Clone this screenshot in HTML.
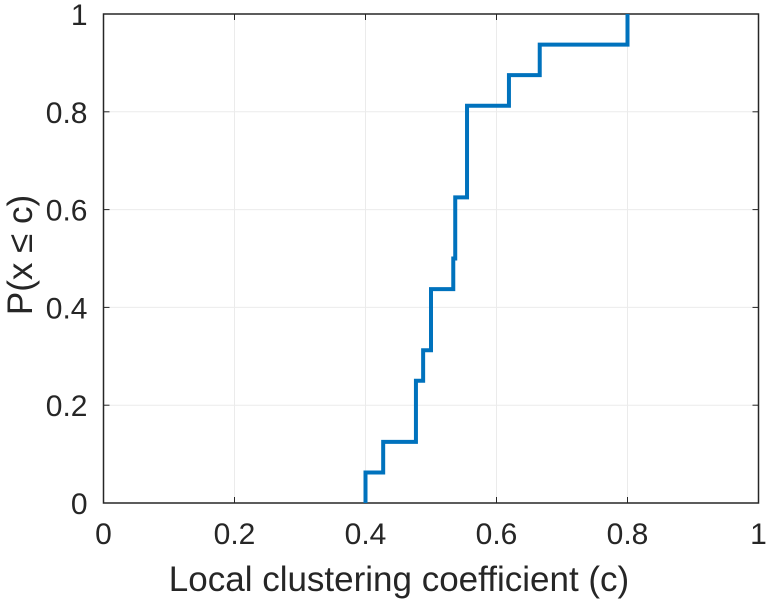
<!DOCTYPE html>
<html><head><meta charset="utf-8"><style>
body{margin:0;background:#fff;}
svg{display:block;font-family:"Liberation Sans",sans-serif;}
</style></head><body>
<svg id="chart" width="766" height="600"></svg>
<script>
const samples=[0.4,0.427,0.477,0.477,0.488,0.5,0.5,0.534,0.537,0.537,0.555,0.555,0.555,0.619,0.666,0.8];
const xTicks=[0,0.2,0.4,0.6,0.8,1];
const yTicks=[0,0.2,0.4,0.6,0.8,1];
const xTickLabels=["0","0.2","0.4","0.6","0.8","1"];
const yTickLabels=["0","0.2","0.4","0.6","0.8","1"];
const L=103.5,R=758.5,T=14,B=503;
const sx=v=>L+v*(R-L), sy=v=>B-v*(B-T);
const svg=document.getElementById('chart');
const NS='http://www.w3.org/2000/svg';
function mk(t,a,p){const e=document.createElementNS(NS,t);for(const k in a)e.setAttribute(k,a[k]);(p||svg).appendChild(e);return e;}
const bg=mk('rect',{x:L,y:T,width:R-L,height:B-T,fill:'#fff'});


xTicks.forEach((v,i)=>{
  const g=mk('line',{x1:sx(v),x2:sx(v),y1:T,y2:B,stroke:'#ebebeb','stroke-width':1});
  
  
  mk('line',{x1:sx(v),x2:sx(v),y1:B,y2:B-6,stroke:'#262626','stroke-width':1});
  mk('line',{x1:sx(v),x2:sx(v),y1:T,y2:T+6,stroke:'#262626','stroke-width':1});
  const t=mk('text',{x:sx(v),y:B+41,'text-anchor':'middle','font-size':30,fill:'#262626'});
  t.textContent=xTickLabels[i];
  
  
});
yTicks.forEach((v,i)=>{
  const g=mk('line',{x1:L,x2:R,y1:sy(v),y2:sy(v),stroke:'#ebebeb','stroke-width':1});
  
  
  mk('line',{x1:L,x2:L+6,y1:sy(v),y2:sy(v),stroke:'#262626','stroke-width':1});
  mk('line',{x1:R,x2:R-6,y1:sy(v),y2:sy(v),stroke:'#262626','stroke-width':1});
  const t=mk('text',{x:L-16,y:sy(v)+11,'text-anchor':'end','font-size':30,fill:'#262626'});
  t.textContent=yTickLabels[i];
  
  
});
const box=mk('rect',{x:L,y:T,width:R-L,height:B-T,fill:'none',stroke:'#262626','stroke-width':1.5});


const n=samples.length;
let d='M'+sx(samples[0])+','+sy(0);
samples.forEach((v,i)=>{d+=' L'+sx(v)+','+sy(i/n)+' L'+sx(v)+','+sy((i+1)/n);
  if(i<n-1)d+=' L'+sx(samples[i+1])+','+sy((i+1)/n);});
const line=mk('path',{d:d,fill:'none',stroke:'#0072bd','stroke-width':4,'stroke-linejoin':'miter'});


const xl=mk('text',{x:399,y:591,'text-anchor':'middle','font-size':35,fill:'#262626'});
xl.textContent='Local clustering coefficient (c)';


const yl=mk('text',{x:0,y:0,'text-anchor':'middle','font-size':35,fill:'#262626',transform:'translate(32,255) rotate(-90)'});
yl.setAttribute('xml:space','preserve');
yl.textContent='P(x  \u2264 c)';


</script>
</body></html>
